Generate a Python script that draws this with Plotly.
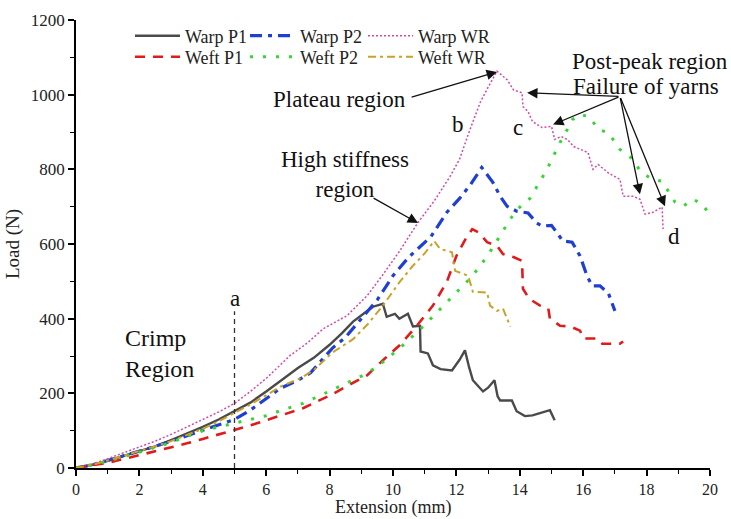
import plotly.graph_objects as go

# ---------------- data (Extension in mm, Load in N) ----------------
warp_p1_x = [0, 0.5, 1, 1.5, 2, 2.5, 3, 3.5, 4, 4.5, 5, 5.5, 6, 6.44, 7, 7.5, 8, 8.4, 8.74, 9.1, 9.37, 9.68,
             9.8, 10.06, 10.2, 10.47, 10.63, 10.85, 10.87, 11.1, 11.26, 11.5, 11.86, 12.1, 12.27, 12.4, 12.52,
             12.84, 13.0, 13.2, 13.3, 13.38, 13.75, 13.9, 14.16, 14.4, 14.7, 14.95, 15.1]
warp_p1_y = [0, 8, 20, 32, 45, 58, 75, 92, 110, 130, 152, 175, 205, 232, 268, 295, 330, 362, 392, 415, 432, 440,
             405, 413, 400, 413, 379, 381, 312, 307, 275, 265, 261, 290, 315, 270, 235,
             205, 215, 235, 192, 181, 181, 152, 139, 141, 148, 155, 128]

warp_p2_x = [0, 0.5, 1, 1.5, 2, 2.5, 3, 3.5, 4, 4.5, 5, 5.5, 6, 6.44, 7, 7.4, 8.1, 8.5, 9.0, 9.5, 10.0, 10.5,
             11.2, 11.7, 12.1, 12.45, 12.8, 13.15, 13.38, 13.6, 13.9, 14.26, 14.54, 14.7, 15.0, 15.36, 15.65,
             15.9, 16.12, 16.28, 16.53, 16.8, 17.0]
warp_p2_y = [0, 8, 20, 32, 45, 58, 72, 86, 100, 115, 130, 155, 185, 213, 235, 255, 322, 350, 400, 450, 515, 565,
             620, 685, 722, 760, 805, 765, 728, 701, 688, 683, 656, 648, 650, 608, 605,
             568, 515, 488, 488, 467, 421]

warp_wr_x = [0, 0.5, 1, 1.5, 2, 2.5, 3, 3.5, 4, 4.5, 5, 5.5, 6, 6.75, 7.3, 7.8, 8.55, 9.18, 9.7, 10.2, 10.8,
             11.3, 11.8, 12.1, 12.4, 12.75, 13.0, 13.28, 13.6, 13.8, 14.07, 14.1, 14.26, 14.4, 14.7, 15.0,
             15.1, 15.3, 15.5, 15.7, 16.15, 16.31, 16.47, 16.8, 17.16, 17.26, 17.57, 17.79, 17.95, 18.2,
             18.49, 18.52]
warp_wr_y = [0, 10, 25, 40, 55, 72, 90, 110, 130, 150, 173, 205, 240, 301, 335, 373, 408, 461, 520, 580, 659,
             715, 781, 827, 900, 979, 1020, 1063, 1040, 1013, 1005, 968, 955, 928, 912, 915,
             880, 888, 880, 861, 845, 800, 813, 790, 773, 728, 728, 720, 680, 685,
             699, 640]

weft_p1_x = [0, 0.5, 1, 1.5, 2, 2.5, 3, 3.5, 4, 4.5, 5, 5.5, 6, 6.5, 7.16, 7.6, 8.1, 8.6, 9.18, 9.7, 10.2,
             10.75, 11.26, 11.7, 12.0, 12.3, 12.5, 12.68, 12.97, 13.28, 13.47, 13.8, 14.07, 14.1, 14.3, 14.64,
             14.9, 14.95, 15.27, 15.6, 15.9, 16.0, 16.44, 16.6, 17.16, 17.26]
weft_p1_y = [0, 6, 14, 24, 34, 44, 55, 66, 78, 90, 101, 114, 128, 142, 160, 178, 198, 222, 248, 290, 328,
             381, 435, 499, 568, 615, 640, 632, 605, 595, 573, 565, 555, 480, 453, 435,
             427, 400, 381, 379, 368, 347, 347, 333, 333, 339]

weft_p2_x = [0, 0.5, 1, 1.5, 2, 2.5, 3, 3.5, 4, 4.5, 5, 5.5, 6, 6.5, 7.16, 7.6, 8.1, 8.6, 9.18, 9.7, 10.2,
             10.95, 11.58, 12.33, 12.7, 13.06, 13.4, 13.7, 13.95, 14.32, 14.86, 15.27, 15.5, 15.65, 15.9,
             16.2, 16.47, 16.8, 17.16, 17.57, 17.8, 18.17, 18.49, 18.7, 18.9, 19.15, 19.46, 19.75, 19.94]
weft_p2_y = [0, 8, 18, 30, 42, 55, 68, 85, 100, 110, 120, 128, 140, 155, 173, 190, 210, 232, 253, 285, 320,
             379, 435, 499, 535, 579, 625, 667, 695, 722, 800, 872, 907, 933, 947,
             941, 907, 898, 853, 827, 795, 773, 768, 739, 712, 701, 720, 707, 685]

weft_wr_x = [0, 0.5, 1, 1.5, 2, 2.5, 3, 3.5, 4, 4.5, 5, 5.5, 6, 6.5, 7.07, 7.5, 8.1, 8.74, 9.2, 9.68, 10.2,
             10.6, 11.0, 11.3, 11.48, 11.86, 11.96, 12.37, 12.52, 12.97, 13.06, 13.28, 13.47, 13.7]
weft_wr_y = [0, 8, 20, 32, 45, 58, 72, 88, 105, 125, 147, 170, 195, 220, 240, 262, 310, 345, 385, 435, 497,
             539, 575, 608, 587, 578, 528, 515, 472, 470, 435, 421, 427, 379]

x_ticks = [0, 2, 4, 6, 8, 10, 12, 14, 16, 18, 20]
y_ticks = [0, 200, 400, 600, 800, 1000, 1200]

# ---------------- figure ----------------
FONT = "Liberation Serif, Times New Roman, serif"
fig = go.Figure()

series = [
    ("Warp P1", warp_p1_x, warp_p1_y, dict(color="#4a4a4a", width=2.4, dash="solid")),
    ("Warp P2", warp_p2_x, warp_p2_y, dict(color="#1f3fd2", width=3.2, dash="12px,6px,4px,6px")),
    ("Warp WR", warp_wr_x, warp_wr_y, dict(color="#d24aa8", width=1.5, dash="2px,2px")),
    ("Weft P1", weft_p1_x, weft_p1_y, dict(color="#e01b1b", width=2.6, dash="10px,8px")),
    ("Weft P2", weft_p2_x, weft_p2_y, dict(color="#33d633", width=3, dash="3px,10px")),
    ("Weft WR", weft_wr_x, weft_wr_y, dict(color="#c9a227", width=2, dash="8px,4px,3px,4px")),
]
legend_ids = ["legend", "legend2", "legend3", "legend4", "legend5", "legend6"]
for (name, xs, ys, ln), lg in zip(series, legend_ids):
    fig.add_trace(go.Scatter(x=xs, y=ys, mode="lines", name=name, line=ln, legend=lg))

# vertical dashed marker "a"
a_x = 5
a_top = 420
fig.add_shape(type="line", x0=a_x, x1=a_x, y0=0, y1=a_top, xref="x", yref="y",
              line=dict(color="#333333", width=1.3, dash="5px,4px"))

txt = dict(font=dict(family=FONT, size=23, color="#111111"), showarrow=False, xref="x", yref="y")
fig.add_annotation(x=a_x, y=453, text="a", **txt)
fig.add_annotation(x=1.48, y=307, text="Crimp<br>Region", xanchor="left", align="left",
                   font=dict(family=FONT, size=24, color="#111111"), showarrow=False, xref="x", yref="y")
fig.add_annotation(x=8.49, y=787, text="High stiffness<br>region", **txt)
fig.add_annotation(x=8.3, y=987, text="Plateau region", **txt)
fig.add_annotation(x=12.05, y=920, text="b", **txt)
fig.add_annotation(x=13.94, y=912, text="c", **txt)
fig.add_annotation(x=18.86, y=621, text="d", **txt)
fig.add_annotation(x=18.1, y=1088, text="Post-peak region", **txt)
fig.add_annotation(x=17.98, y=1021, text="Failure of yarns", **txt)

arrows = [
    ((10.54, 992), (13.28, 1061)),
    ((9.34, 725), (10.79, 656)),
    ((17.16, 995), (14.23, 1005)),
    ((17.16, 995), (15.05, 920)),
    ((17.16, 995), (17.79, 733)),
    ((17.16, 995), (18.58, 701)),
]
for (tx, ty), (hx, hy) in arrows:
    fig.add_annotation(x=hx, y=hy, ax=tx, ay=ty, xref="x", yref="y", axref="x", ayref="y",
                       text="", showarrow=True, arrowhead=2, arrowsize=1.6, arrowwidth=1.3,
                       arrowcolor="#111111", standoff=0)

MARGIN_B = 51
PLOT_H = 519 - 20 - MARGIN_B
# x-axis title, placed below the tick labels (centre at about y=507 px)
fig.add_annotation(x=0.5, y=-(507 - (519 - MARGIN_B)) / PLOT_H, xref="paper", yref="paper",
                   text="Extension (mm)", showarrow=False, yanchor="middle",
                   font=dict(family=FONT, size=18, color="#222222"))

axis_common = dict(showline=True, linecolor="black", linewidth=1.5, ticks="outside", ticklen=6,
                   tickwidth=1.5, tickcolor="black", showgrid=False, zeroline=False, automargin=False)

fig.update_xaxes(range=[0, 20], tickvals=x_ticks,
                 tickfont=dict(family=FONT, size=16, color="#222222"),
                 minor=dict(ticks="outside", ticklen=4, tickwidth=1.2, dtick=1, tickcolor="black"),
                 **axis_common)
fig.update_yaxes(range=[0, 1200], tickvals=y_ticks, title_text="Load (N)", title_standoff=6,
                 title_font=dict(family=FONT, size=19, color="#222222"),
                 tickfont=dict(family=FONT, size=17, color="#222222"),
                 minor=dict(ticks="outside", ticklen=4, tickwidth=1.2, dtick=100, tickcolor="black"),
                 **axis_common)

leg_common = dict(orientation="v", xanchor="left", yanchor="middle", bgcolor="rgba(0,0,0,0)",
                  font=dict(family=FONT, size=18, color="#222222"), itemwidth=45,
                  itemclick=False, tracegroupgap=0)
col_x = [0.0852, 0.2666, 0.4527]
row_px = [36, 57]
row_y = [(519 - MARGIN_B - r) / PLOT_H for r in row_px]
layout_legends = {}
for i, lg in enumerate(legend_ids):
    layout_legends[lg] = dict(x=col_x[i % 3], y=row_y[i // 3], **leg_common)

fig.update_layout(
    width=731, height=519,
    margin=dict(l=76, r=21, t=20, b=MARGIN_B),
    paper_bgcolor="white", plot_bgcolor="white",
    showlegend=True,
    **layout_legends,
)

fig.write_html("out.html")
